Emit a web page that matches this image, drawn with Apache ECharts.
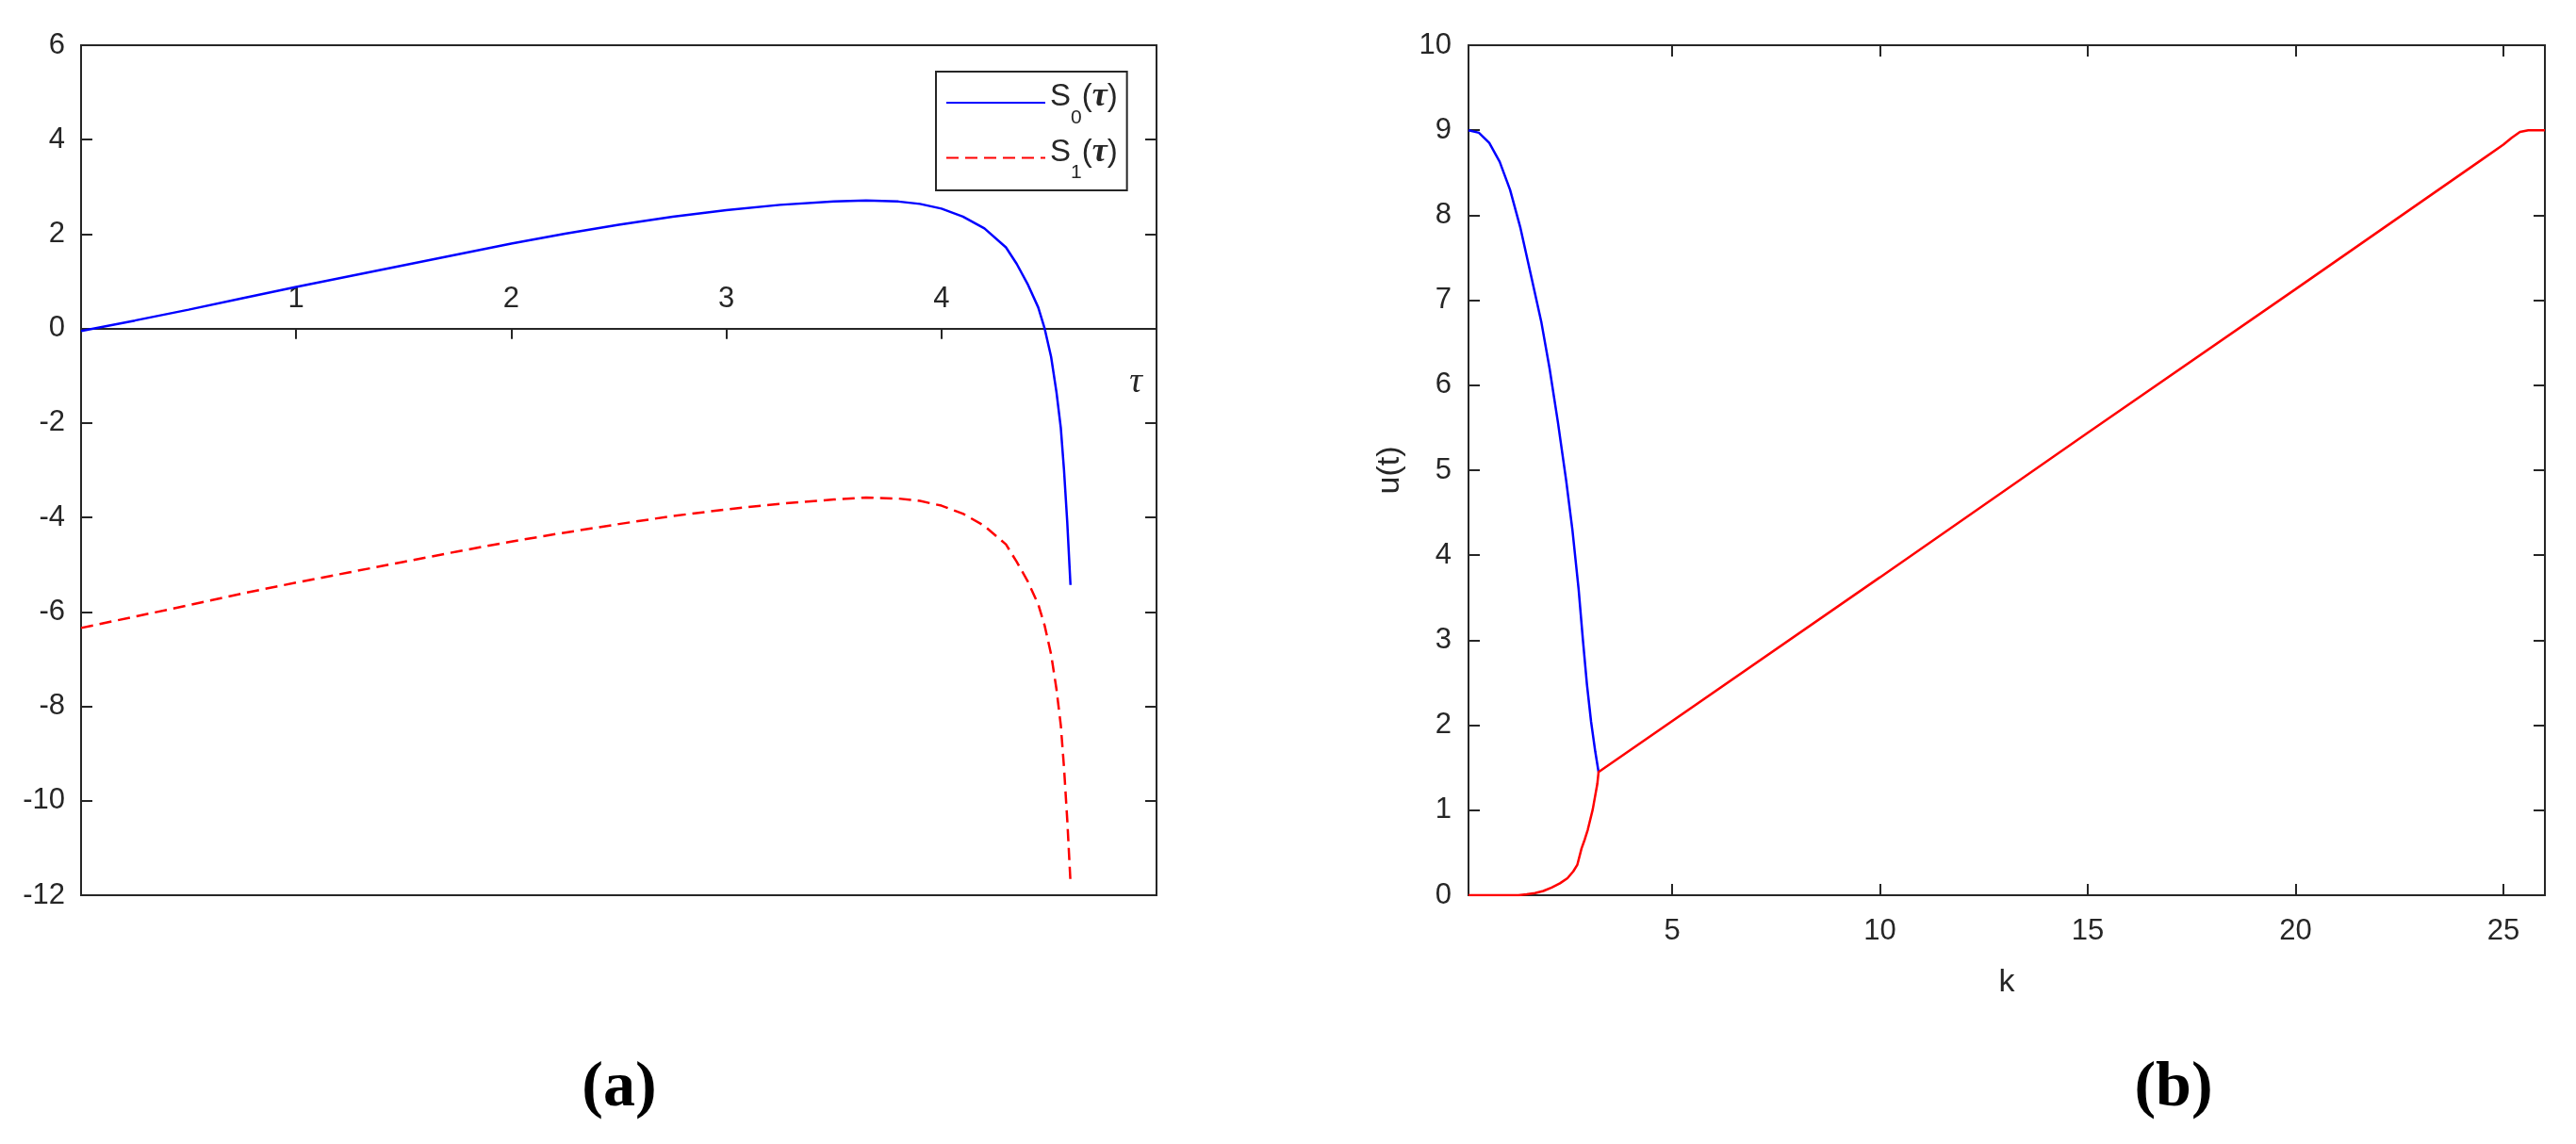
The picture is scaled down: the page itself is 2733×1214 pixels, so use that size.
<!DOCTYPE html>
<html>
<head>
<meta charset="utf-8">
<script src="https://cdn.jsdelivr.net/npm/echarts@6/dist/echarts.min.js"></script>
<style>
html, body { margin: 0; padding: 0; background: #fff; }
#main { width: 2733px; height: 1214px; }
</style>
</head>
<body>
<div id="main"></div>
<script>
// 图 (a)：S0(τ)、S1(τ)
var tau = [0, 0.25, 0.5, 0.75, 1.0, 1.25, 1.5, 1.75, 2.0, 2.25, 2.5, 2.75, 3.0, 3.25, 3.5, 3.65,
	3.8, 3.9, 4.0, 4.1, 4.2, 4.3, 4.35, 4.4, 4.45, 4.48, 4.51, 4.535, 4.555, 4.57, 4.585, 4.6];
var s0 = [-0.05, 0.17, 0.40, 0.64, 0.88, 1.11, 1.34, 1.57, 1.80, 2.01, 2.20, 2.37, 2.51, 2.62, 2.69, 2.71,
	2.69, 2.64, 2.54, 2.37, 2.12, 1.72, 1.37, 0.95, 0.45, 0.0, -0.6, -1.35, -2.1, -3.0, -4.1, -5.43];
var s1 = [-6.34, -6.10, -5.86, -5.61, -5.38, -5.16, -4.94, -4.72, -4.51, -4.32, -4.14, -3.97, -3.83, -3.71, -3.62, -3.58,
	-3.60, -3.65, -3.75, -3.92, -4.18, -4.57, -4.94, -5.34, -5.84, -6.29, -6.9, -7.64, -8.4, -9.3, -10.4, -11.72];

// 图 (b)：u(t)
var kBlue = [0.1, 0.35, 0.6, 0.85, 1.1, 1.35, 1.6, 1.85, 2.05, 2.25, 2.45, 2.6, 2.75, 2.85, 2.95, 3.05, 3.15, 3.23];
var uBlue = [9.0, 8.97, 8.85, 8.63, 8.3, 7.85, 7.3, 6.75, 6.2, 5.57, 4.88, 4.3, 3.6, 3.02, 2.48, 2.04, 1.69, 1.45];
var kRed = [0.1, 1.3, 1.5, 1.7, 1.9, 2.1, 2.3, 2.48, 2.62, 2.72, 2.82, 2.9, 2.97, 3.09, 3.2, 3.23,
	10, 15, 20, 24.5, 25.0, 25.2, 25.4, 25.6, 26];
var uRed = [0, 0, 0.01, 0.025, 0.05, 0.09, 0.14, 0.2, 0.28, 0.36, 0.55, 0.66, 0.77, 1.01, 1.31, 1.45,
	3.74, 5.44, 7.13, 8.66, 8.83, 8.91, 8.98, 9.0, 9.0];

var AXIS_COLOR = "#262626";
var FONT = "Liberation Sans, Arial, sans-serif";
var SERIF = "Liberation Serif, serif";

// 图 (a) 的纵轴范围与网格尺寸
var A_YMIN = -12, A_YMAX = 6;
var A_GRID = { left: 86, top: 48, width: 1141, height: 902 };
// 横轴移到 y = 0 处（标签也要跟着上移）
var A_ZERO_OFFSET = -A_GRID.height * (0 - A_YMIN) / (A_YMAX - A_YMIN);

function pairs(xs, ys) {
	return xs.map((v, i) => [v, ys[i]]);
}

// 公共坐标轴样式
function axisLine(show) {
	return { show: show, onZero: false, lineStyle: { color: AXIS_COLOR, width: 2 } };
}
function innerTick(show) {
	return { show: show, inside: true, length: 12, lineStyle: { color: AXIS_COLOR, width: 2 } };
}
var labelStyle = { color: AXIS_COLOR, fontSize: 31, fontFamily: FONT };

var option = {
	animation: false,
	backgroundColor: "#fff",
	grid: [
		Object.assign({ show: true, borderColor: AXIS_COLOR, borderWidth: 2 }, A_GRID),
		{ left: 1558, top: 48, width: 1142, height: 902, show: true,
		  borderColor: AXIS_COLOR, borderWidth: 2 }
	],
	legend: {
		data: ["S0", "S1"],
		orient: "vertical",
		left: 993,
		top: 76,
		padding: [9, 10, 8, 10],
		itemGap: 8,
		itemWidth: 105,
		itemHeight: 14,
		itemTextGap: 10,
		backgroundColor: "#fff",
		borderColor: AXIS_COLOR,
		borderWidth: 2,
		borderRadius: 0,
		itemStyle: { opacity: 0 },
		formatter: n => "{s|S}{sub|" + n.slice(1) + "}{s|(}{it|τ}{s|)}",
		textStyle: {
			color: AXIS_COLOR,
			rich: {
				s: { fontSize: 33, fontFamily: FONT, color: AXIS_COLOR, padding: [0, 0, 12, 0] },
				sub: { fontSize: 21, fontFamily: FONT, color: AXIS_COLOR, padding: [32, 0, 0, 0] },
				it: { fontSize: 36, fontFamily: SERIF, fontStyle: "italic", fontWeight: "bold",
				      color: AXIS_COLOR, padding: [0, 0, 12, 0] }
			}
		}
	},
	xAxis: [
		{
			gridIndex: 0, type: "value", min: 0, max: 5, interval: 1,
			position: "bottom", offset: A_ZERO_OFFSET,
			axisLine: axisLine(true),
			axisTick: { show: true, inside: false, length: 11, lineStyle: { color: AXIS_COLOR, width: 2 } },
			// 刻度标签位于零轴上方
			axisLabel: Object.assign({ margin: -16, verticalAlign: "bottom",
						   showMinLabel: false, showMaxLabel: false }, labelStyle),
			splitLine: { show: false }
		},
		{
			gridIndex: 1, type: "value", min: 0.1, max: 26,
			axisLine: axisLine(true),
			axisTick: innerTick(true),
			axisLabel: Object.assign({ margin: 23, showMinLabel: false, showMaxLabel: false }, labelStyle),
			splitLine: { show: false },
			name: "k",
			nameLocation: "middle",
			nameGap: 76,
			nameTextStyle: { fontSize: 34, fontFamily: FONT, color: AXIS_COLOR }
		},
		{
			gridIndex: 1, type: "value", min: 0.1, max: 26, position: "top",
			axisLine: axisLine(true),
			axisTick: innerTick(true),
			axisLabel: { show: false },
			splitLine: { show: false }
		}
	],
	yAxis: [
		{
			gridIndex: 0, type: "value", min: A_YMIN, max: A_YMAX, interval: 2,
			axisLine: axisLine(true),
			axisTick: innerTick(true),
			axisLabel: Object.assign({ margin: 17 }, labelStyle),
			splitLine: { show: false }
		},
		{
			gridIndex: 0, type: "value", min: A_YMIN, max: A_YMAX, interval: 2, position: "right",
			axisLine: axisLine(true),
			axisTick: innerTick(true),
			axisLabel: { show: false },
			splitLine: { show: false }
		},
		{
			gridIndex: 1, type: "value", min: 0, max: 10, interval: 1,
			axisLine: axisLine(true),
			axisTick: innerTick(true),
			axisLabel: Object.assign({ margin: 18 }, labelStyle),
			splitLine: { show: false },
			name: "u(t)",
			nameLocation: "middle",
			nameGap: 66,
			nameRotate: 90,
			nameTextStyle: { fontSize: 34, fontFamily: FONT, color: AXIS_COLOR }
		},
		{
			gridIndex: 1, type: "value", min: 0, max: 10, interval: 1, position: "right",
			axisLine: axisLine(true),
			axisTick: innerTick(true),
			axisLabel: { show: false },
			splitLine: { show: false }
		}
	],
	series: [
		{
			name: "S0", type: "line", xAxisIndex: 0, yAxisIndex: 0,
			data: pairs(tau, s0), showSymbol: false, symbol: "none",
			lineStyle: { color: "#0000ff", width: 2.5 },
			itemStyle: { color: "#0000ff" }
		},
		{
			name: "S1", type: "line", xAxisIndex: 0, yAxisIndex: 0,
			data: pairs(tau, s1), showSymbol: false, symbol: "none",
			lineStyle: { color: "#ff0000", width: 2.5, type: [13, 7] },
			itemStyle: { color: "#ff0000" }
		},
		{
			name: "u0", type: "line", xAxisIndex: 1, yAxisIndex: 2,
			data: pairs(kBlue, uBlue), showSymbol: false, symbol: "none",
			lineStyle: { color: "#0000ff", width: 2.5 }
		},
		{
			name: "u1", type: "line", xAxisIndex: 1, yAxisIndex: 2,
			data: pairs(kRed, uRed), showSymbol: false, symbol: "none",
			lineStyle: { color: "#ff0000", width: 2.5 }
		}
	],
	// τ 轴名与子图标题 (a)、(b)
	graphic: [
		{ type: "text", x: 1205, y: 406,
		  style: { text: "τ", fill: AXIS_COLOR, font: "italic 38px 'Liberation Serif', serif",
			   textAlign: "center", textVerticalAlign: "middle" } },
		{ type: "text", x: 657, y: 1155,
		  style: { text: "(a)", fill: "#000", font: "bold 68px 'Liberation Serif', serif",
			   textAlign: "center", textVerticalAlign: "middle" } },
		{ type: "text", x: 2306, y: 1155,
		  style: { text: "(b)", fill: "#000", font: "bold 68px 'Liberation Serif', serif",
			   textAlign: "center", textVerticalAlign: "middle" } }
	]
};

var chart = echarts.init(document.getElementById("main"));
chart.setOption(option);
window.addEventListener("resize", chart.resize);
</script>
</body>
</html>
